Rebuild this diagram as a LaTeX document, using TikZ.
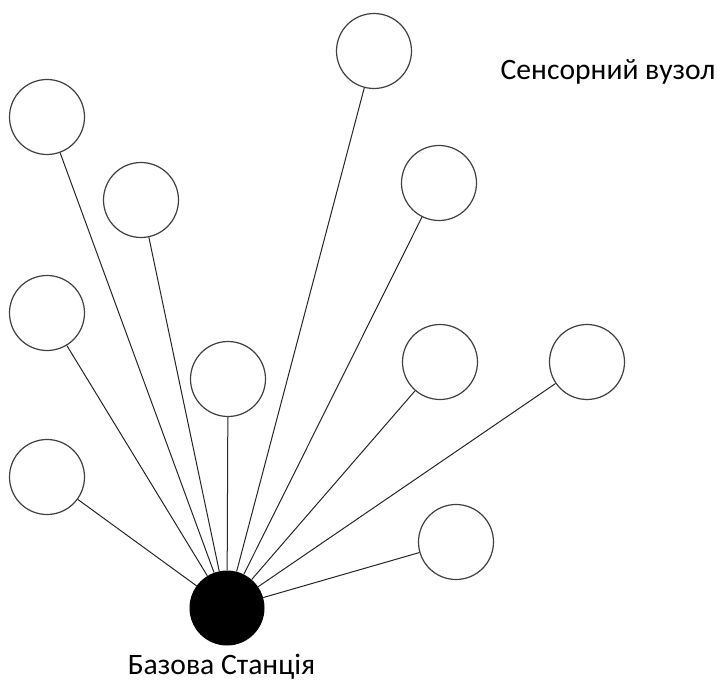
\documentclass[tikz,border=0pt]{standalone}
\usepackage{fontspec}
\setmainfont{Carlito}
\begin{document}
\begin{tikzpicture}[x=1pt,y=-1pt,
  sensor/.style={circle,draw=black!75,line width=1.2pt,fill=white,minimum size=75pt,inner sep=0pt},
  base/.style={circle,fill=black,minimum size=75pt,inner sep=0pt},
  link/.style={draw=black!85,line width=1pt},
  caption/.style={anchor=base,font=\fontsize{29.6}{34}\selectfont,inner sep=0pt}]
\useasboundingbox[fill=white] (0,0) rectangle (718,682);
% base station
\node[base] (bs) at (227,608) {};
% sensor nodes
\node[sensor] (s1) at (47,117) {};
\node[sensor] (s2) at (141,200) {};
\node[sensor] (s3) at (47,313) {};
\node[sensor] (s4) at (47,477) {};
\node[sensor] (s5) at (228,379) {};
\node[sensor] (s6) at (374,51) {};
\node[sensor] (s7) at (439,183) {};
\node[sensor] (s8) at (440,362) {};
\node[sensor] (s9) at (587,362) {};
\node[sensor] (s10) at (456,542) {};
% links to the base station
\foreach \s in {s1,s2,s3,s4,s5,s6,s7,s8,s9,s10}
  \draw[link] (\s) -- (bs);
% labels
\node[caption] (lsensor) at (608,80) {Сенсорний вузол};
\node[caption] (lbase) at (221.5,674.5) {Базова Станція};
\end{tikzpicture}
\end{document}
